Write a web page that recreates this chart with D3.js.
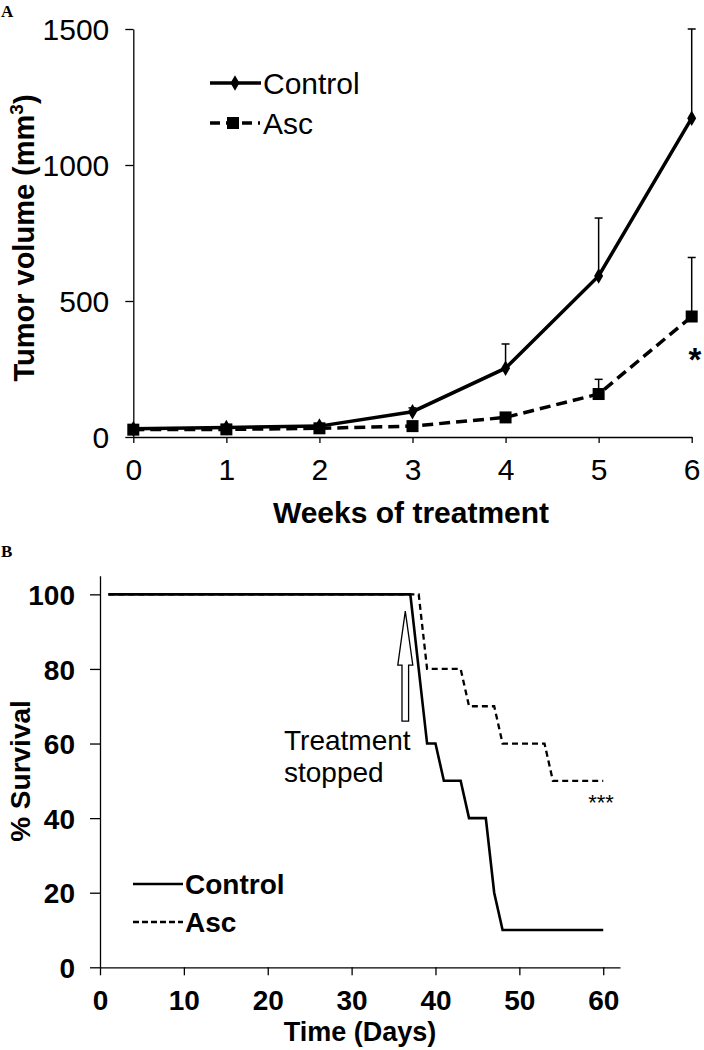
<!DOCTYPE html>
<html>
<head>
<meta charset="utf-8">
<script src="https://cdn.jsdelivr.net/npm/d3@7"></script>
<style>
  body { margin: 0; background: #fff; }
  svg { display: block; font-family: "Liberation Sans", Arial, sans-serif; }
</style>
</head>
<body>
<svg id="chart" width="704" height="1050"></svg>
<script>
// ---------- Panel A data ----------
const weeks = [0, 1, 2, 3, 4, 5, 6];
const controlVolume = [30, 35, 40, 93, 253, 592, 1172];
const controlErr = [4, 4, 6, 14, 89, 213, 328];
const ascVolume = [27, 28, 32, 40, 72, 158, 443];
const ascErr = [3, 3, 4, 5, 8, 54, 217];
const volumeTicks = [0, 500, 1000, 1500];

// ---------- Panel B data ----------
const controlDays = [1, 37, 39, 40, 41, 43, 44, 46, 47, 48, 60];
const controlSurvival = [100, 100, 60, 60, 50, 50, 40, 40, 20, 10, 10];
const ascDays = [1, 38, 39, 43, 44, 47, 48, 53, 54, 60];
const ascSurvival = [100, 100, 80, 80, 70, 70, 60, 60, 50, 50];
const dayTicks = [0, 10, 20, 30, 40, 50, 60];
const survivalTicks = [0, 20, 40, 60, 80, 100];
const treatmentStopDay = 36.4;

const svg = d3.select("#chart");
const fmt = d3.format("d");

// ================= Panel A =================
const xA = d3.scaleLinear().domain([0, 6]).range([133.3, 691.7]);
const yA = d3.scaleLinear().domain([0, 1500]).range([437, 29]);

const gA = svg.append("g");

const yAxisA = d3.axisLeft(yA).tickValues(volumeTicks).tickFormat(fmt).tickSize(8).tickSizeOuter(0).tickPadding(16);
const xAxisA = d3.axisBottom(xA).tickValues(weeks).tickFormat(fmt).tickSize(6).tickSizeOuter(0).tickPadding(16);

const gyA = gA.append("g").attr("transform", `translate(${xA(0)},0)`).call(yAxisA);
const gxA = gA.append("g").attr("transform", `translate(0,${yA(0)})`).call(xAxisA);
[gyA, gxA].forEach(g => {
  g.selectAll("path,line").attr("stroke", "#000").attr("stroke-width", 1.3);
  g.selectAll("text").attr("font-size", 30).attr("fill", "#000")
    .attr("font-family", "'Liberation Sans', Arial, sans-serif");
});
gyA.selectAll("text").attr("dy", "0.36em");

// error bars (upper only)
const capW = 4;
function errorBars(vals, errs) {
  const g = gA.append("g").attr("stroke", "#000").attr("stroke-width", 1.5);
  weeks.forEach((w, i) => {
    const x = xA(w), y0 = yA(vals[i]), y1 = yA(vals[i] + errs[i]);
    g.append("line").attr("x1", x).attr("x2", x).attr("y1", y0).attr("y2", y1);
    g.append("line").attr("x1", x - capW).attr("x2", x + capW).attr("y1", y1).attr("y2", y1);
  });
}
errorBars(controlVolume, controlErr);
errorBars(ascVolume, ascErr);

const lineA = d3.line().x(d => xA(d[0])).y(d => yA(d[1]));
const ctrlPts = weeks.map((w, i) => [w, controlVolume[i]]);
const ascPts = weeks.map((w, i) => [w, ascVolume[i]]);

gA.append("path").datum(ascPts).attr("d", lineA)
  .attr("fill", "none").attr("stroke", "#000").attr("stroke-width", 3.5)
  .attr("stroke-dasharray", "11,6");
gA.append("path").datum(ctrlPts).attr("d", lineA)
  .attr("fill", "none").attr("stroke", "#000").attr("stroke-width", 3.5);

const diamond = d3.symbol().type(d3.symbolDiamond).size(70);
gA.selectAll(".dia").data(ctrlPts).join("path")
  .attr("transform", d => `translate(${xA(d[0])},${yA(d[1])})`)
  .attr("d", diamond).attr("fill", "#000");
const sq = 12;
gA.selectAll(".sq").data(ascPts).join("rect")
  .attr("x", d => xA(d[0]) - sq / 2).attr("y", d => yA(d[1]) - sq / 2)
  .attr("width", sq).attr("height", sq).attr("fill", "#000");

// significance star
gA.append("text").attr("x", 695).attr("y", 371).attr("text-anchor", "middle")
  .attr("font-size", 33).attr("font-weight", "bold").text("*");

// legend A
const legA = gA.append("g");
legA.append("line").attr("x1", 210).attr("x2", 261).attr("y1", 83).attr("y2", 83)
  .attr("stroke", "#000").attr("stroke-width", 3.5);
legA.append("path").attr("transform", "translate(235,83)").attr("d", diamond).attr("fill", "#000");
legA.append("text").attr("x", 263).attr("y", 83).attr("dy", "0.36em")
  .attr("font-size", 30).text("Control");
legA.append("line").attr("x1", 210).attr("x2", 260).attr("y1", 123).attr("y2", 123)
  .attr("stroke", "#000").attr("stroke-width", 3.5).attr("stroke-dasharray", "10,6");
legA.append("rect").attr("x", 233 - sq / 2).attr("y", 123 - sq / 2).attr("width", sq).attr("height", sq).attr("fill", "#000");
legA.append("text").attr("x", 263).attr("y", 123).attr("dy", "0.36em")
  .attr("font-size", 30).text("Asc");

// titles A
gA.append("text").attr("transform", "translate(24,238) rotate(-90)")
  .attr("text-anchor", "middle").attr("dy", "0.36em")
  .attr("font-size", 29).attr("font-weight", "bold")
  .call(t => {
    t.append("tspan").text("Tumor volume (mm");
    t.append("tspan").attr("font-size", 19).attr("dy", "-0.6em").text("3");
    t.append("tspan").attr("dy", "0.4em").text(")");
  });
gA.append("text").attr("x", 411).attr("y", 512).attr("dy", "0.36em")
  .attr("text-anchor", "middle").attr("font-size", 30).attr("font-weight", "bold")
  .text("Weeks of treatment");

// panel label
svg.append("text").attr("x", 1).attr("y", 17).attr("font-family", "'Liberation Serif', 'Times New Roman', serif")
  .attr("font-weight", "bold").attr("font-size", 17).text("A");

// ================= Panel B =================
const xB = d3.scaleLinear().domain([0, 62]).range([100, 620]);
const yB = d3.scaleLinear().domain([0, 105]).range([967.3, 575.7]);

const gB = svg.append("g");
const yAxisB = d3.axisLeft(yB).tickValues(survivalTicks).tickFormat(fmt).tickSize(10).tickSizeOuter(0).tickPadding(15);
const xAxisB = d3.axisBottom(xB).tickValues(dayTicks).tickFormat(fmt).tickSize(8).tickSizeOuter(0).tickPadding(15);
const gyB = gB.append("g").attr("transform", `translate(${xB(0)},0)`).call(yAxisB);
const gxB = gB.append("g").attr("transform", `translate(0,${yB(0)})`).call(xAxisB);
[gyB, gxB].forEach(g => {
  g.selectAll("path,line").attr("stroke", "#000").attr("stroke-width", 1.3);
  g.selectAll("text").attr("font-size", 28).attr("font-weight", "bold").attr("fill", "#000")
    .attr("font-family", "'Liberation Sans', Arial, sans-serif");
});
gyB.selectAll("text").attr("dy", "0.36em");

const lineB = d3.line().x(d => xB(d[0])).y(d => yB(d[1]));
const ctrlB = controlDays.map((d, i) => [d, controlSurvival[i]]);
const ascB = ascDays.map((d, i) => [d, ascSurvival[i]]);
gB.append("path").datum(ascB).attr("d", lineB).attr("fill", "none")
  .attr("stroke", "#000").attr("stroke-width", 2.3).attr("stroke-dasharray", "6,4");
gB.append("path").datum(ctrlB).attr("d", lineB).attr("fill", "none")
  .attr("stroke", "#000").attr("stroke-width", 2.6);

// treatment stopped arrow
const ax = xB(treatmentStopDay);
const tipY = yB(95.5), baseY = yB(81), botY = yB(66);
gB.append("path")
  .attr("d", `M${ax},${tipY} L${ax + 7.5},${baseY} L${ax + 3.3},${baseY} L${ax + 3.3},${botY} L${ax - 3.3},${botY} L${ax - 3.3},${baseY} L${ax - 7.5},${baseY} Z`)
  .attr("fill", "#fff").attr("stroke", "#000").attr("stroke-width", 1.3);
const ann = gB.append("text").attr("font-size", 28).attr("fill", "#000");
ann.append("tspan").attr("x", 284).attr("y", 750).text("Treatment");
ann.append("tspan").attr("x", 284).attr("y", 782).text("stopped");

// significance
gB.append("text").attr("x", 601).attr("y", 810).attr("text-anchor", "middle")
  .attr("font-size", 22).text("***");

// legend B
gB.append("line").attr("x1", 133).attr("x2", 183).attr("y1", 884).attr("y2", 884)
  .attr("stroke", "#000").attr("stroke-width", 2.6);
gB.append("text").attr("x", 185).attr("y", 884).attr("dy", "0.36em")
  .attr("font-size", 28).attr("font-weight", "bold").text("Control");
gB.append("line").attr("x1", 133).attr("x2", 183).attr("y1", 922).attr("y2", 922)
  .attr("stroke", "#000").attr("stroke-width", 2.3).attr("stroke-dasharray", "6,3");
gB.append("text").attr("x", 185).attr("y", 922).attr("dy", "0.36em")
  .attr("font-size", 28).attr("font-weight", "bold").text("Asc");

// titles B
gB.append("text").attr("transform", "translate(20,771) rotate(-90)")
  .attr("text-anchor", "middle").attr("dy", "0.36em")
  .attr("font-size", 28).attr("font-weight", "bold").text("% Survival");
gB.append("text").attr("x", 360).attr("y", 1031).attr("dy", "0.36em")
  .attr("text-anchor", "middle").attr("font-size", 27).attr("font-weight", "bold")
  .text("Time (Days)");

svg.append("text").attr("x", 1).attr("y", 557).attr("font-family", "'Liberation Serif', 'Times New Roman', serif")
  .attr("font-weight", "bold").attr("font-size", 17).text("B");
</script>
</body>
</html>
